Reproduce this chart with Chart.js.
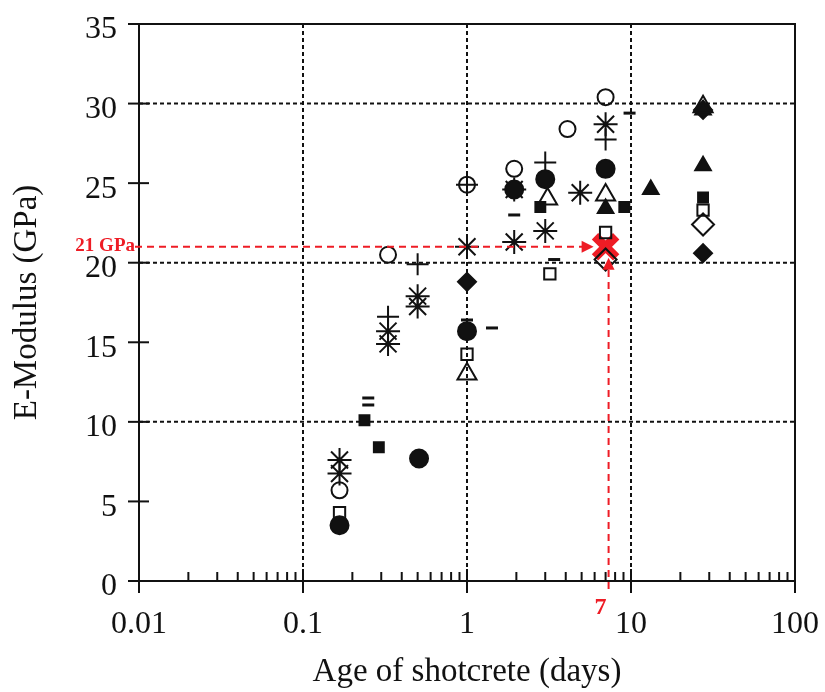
<!DOCTYPE html>
<html>
<head>
<meta charset="utf-8">
<script src="https://cdn.jsdelivr.net/npm/chart.js@4.4.0/dist/chart.umd.min.js"></script>
<style>
  html, body { margin: 0; padding: 0; background: #fff; }
  #wrap { width: 825px; height: 692px; position: relative; }
</style>
</head>
<body>
<div id="wrap"><canvas id="EModChart"></canvas></div>
<script>
// axis ticks and dotted grid positions
const xTicks = [0.01, 0.1, 1, 10, 100];
const xTickLabels = ['0.01', '0.1', '1', '10', '100'];
const yTicks = [0, 5, 10, 15, 20, 25, 30, 35];
const xGrid = [0.1, 1, 10];
const yGrid = [10, 20, 30];

// read-off values: [age (days), E-modulus (GPa)]
const openCircle = [[0.167, 5.7], [0.33, 20.5], [1.0, 24.9], [1.94, 25.9], [4.1, 28.4], [7.0, 30.4]];
const filledCircle = [[0.167, 3.5], [0.51, 7.7], [1.0, 15.7], [1.94, 24.6], [3.0, 25.25], [7.0, 25.9]];
const openSquare = [[0.167, 4.3], [1.0, 14.25], [3.2, 19.3], [7.0, 21.9], [27.5, 23.3]];
const filledSquare = [[0.237, 10.1], [0.29, 8.4], [2.8, 23.5], [9.1, 23.5], [27.5, 24.1]];
const openTriangle = [[1.0, 13.0], [3.1, 24.0], [7.0, 24.25], [27.5, 29.8]];
const filledTriangle = [[7.0, 23.4], [13.2, 24.6], [27.5, 26.1], [27.5, 29.6]];
const openDiamond = [[7.0, 20.2], [27.5, 22.4]];
const filledDiamond = [[1.0, 18.8], [27.5, 20.6], [27.5, 29.6]];
const plusMarks = [[0.33, 16.6], [0.5, 19.9], [1.0, 24.9], [3.0, 26.3], [7.0, 27.75]];
const asterisks = [[0.167, 7.6], [0.167, 6.75], [0.33, 15.7], [0.33, 14.9], [0.5, 17.9], [0.5, 17.25],
                   [1.0, 21.0], [1.94, 21.3], [1.94, 24.6], [3.0, 22.0], [4.9, 24.4], [7.0, 28.7]];
const dashes = [[0.25, 11.5], [0.25, 11.06], [1.0, 16.4], [1.42, 15.9], [1.94, 23.0], [3.4, 20.2], [9.8, 29.4]];

// highlighted reading
const refAge = 7;
const refModulus = 21;

const INK = '#111';
const RED = '#ee1c25';
const SERIF = '"Liberation Serif", "Times New Roman", serif';

function toXY(list) {
    return list.map(p => ({ x: p[0], y: p[1] }));
}

function marker(list, style, filled, radius, width) {
    return {
        data: toXY(list),
        showLine: false,
        pointStyle: style,
        pointRadius: radius,
        pointHoverRadius: radius,
        pointBackgroundColor: filled ? INK : 'rgba(0,0,0,0)',
        pointBorderColor: INK,
        pointBorderWidth: width
    };
}

// frame, dotted grid, tick marks, tick labels and the red reading lines
const framePlugin = {
    id: 'frame',
    beforeDatasetsDraw(chart) {
        const { ctx, chartArea: a, scales: { x, y } } = chart;
        ctx.save();
        ctx.strokeStyle = INK;

        // dotted grid
        ctx.lineWidth = 2;
        ctx.setLineDash([4, 3]);
        xGrid.forEach(v => {
            const px = x.getPixelForValue(v);
            ctx.beginPath(); ctx.moveTo(px, a.bottom); ctx.lineTo(px, a.top); ctx.stroke();
        });
        yGrid.forEach(v => {
            const py = y.getPixelForValue(v);
            ctx.beginPath(); ctx.moveTo(a.left, py); ctx.lineTo(a.right, py); ctx.stroke();
        });
        ctx.setLineDash([]);

        // box
        ctx.lineWidth = 2;
        ctx.strokeRect(a.left, a.top, a.right - a.left, a.bottom - a.top);

        // y ticks: crossing marks
        yTicks.forEach(v => {
            const py = y.getPixelForValue(v);
            ctx.beginPath(); ctx.moveTo(a.left - 11, py); ctx.lineTo(a.left + 10, py); ctx.stroke();
        });

        // x ticks: major crossing, minor inside
        xTicks.forEach((v, i) => {
            const px = x.getPixelForValue(v);
            ctx.beginPath(); ctx.moveTo(px, a.bottom + 12); ctx.lineTo(px, a.bottom - 12); ctx.stroke();
            if (i < xTicks.length - 1) {
                for (let m = 2; m <= 9; m++) {
                    const mx = x.getPixelForValue(v * m);
                    ctx.beginPath(); ctx.moveTo(mx, a.bottom); ctx.lineTo(mx, a.bottom - 9); ctx.stroke();
                }
            }
        });

        // tick labels
        ctx.fillStyle = INK;
        ctx.font = '32px ' + SERIF;
        ctx.textAlign = 'right';
        ctx.textBaseline = 'middle';
        yTicks.forEach(v => {
            ctx.fillText(String(v), a.left - 22, y.getPixelForValue(v) + 6);
        });
        ctx.textAlign = 'center';
        xTicks.forEach((v, i) => {
            ctx.fillText(xTickLabels[i], x.getPixelForValue(v), a.bottom + 44);
        });
        ctx.restore();
    },
    afterDatasetsDraw(chart) {
        const { ctx, chartArea: a, scales: { x, y } } = chart;
        const px = x.getPixelForValue(refAge);
        const py = y.getPixelForValue(refModulus);
        ctx.save();
        ctx.strokeStyle = RED;
        ctx.fillStyle = RED;
        ctx.lineWidth = 2;
        ctx.setLineDash([7, 5]);

        // horizontal dashed arrow
        ctx.beginPath(); ctx.moveTo(a.left - 4, py); ctx.lineTo(px - 22, py); ctx.stroke();
        // vertical dashed arrow
        ctx.beginPath(); ctx.moveTo(px + 3, a.bottom + 8); ctx.lineTo(px + 3, py + 22); ctx.stroke();
        ctx.setLineDash([]);

        // arrow heads
        ctx.beginPath();
        ctx.moveTo(px - 12, py); ctx.lineTo(px - 24, py - 6); ctx.lineTo(px - 24, py + 6); ctx.closePath();
        ctx.fill();
        ctx.beginPath();
        ctx.moveTo(px + 3, py + 11); ctx.lineTo(px - 3, py + 23); ctx.lineTo(px + 9, py + 23); ctx.closePath();
        ctx.fill();

        // labels
        ctx.font = 'bold 19px ' + SERIF;
        ctx.textAlign = 'right';
        ctx.textBaseline = 'middle';
        ctx.fillText(refModulus + ' GPa', a.left - 4, py - 1);
        ctx.font = 'bold 24px ' + SERIF;
        ctx.textAlign = 'center';
        ctx.fillText(String(refAge), px - 5, a.bottom + 27);
        ctx.restore();
    }
};

const datasets = [
    marker(openCircle, 'circle', false, 8, 2),
    marker(filledCircle, 'circle', true, 9, 2),
    marker(openSquare, 'rect', false, 8, 2),
    marker(filledSquare, 'rect', true, 7, 2),
    marker(openTriangle, 'triangle', false, 11, 2),
    marker(filledTriangle, 'triangle', true, 9, 2),
    marker(openDiamond, 'rectRot', false, 11, 2),
    marker(filledDiamond, 'rectRot', true, 9, 2),
    marker(plusMarks, 'cross', false, 11, 2),
    marker(asterisks, 'star', false, 12, 2),
    marker(dashes, 'line', false, 6, 3),
    {
        data: toXY([[refAge, refModulus]]),
        showLine: false,
        pointStyle: 'crossRot',
        pointRadius: 15,
        pointHoverRadius: 15,
        pointBorderColor: RED,
        pointBorderWidth: 9
    }
];

new Chart(document.getElementById('EModChart'), {
    type: 'scatter',
    data: { datasets: datasets },
    plugins: [framePlugin],
    options: {
        responsive: true,
        maintainAspectRatio: false,
        animation: false,
        layout: { padding: { left: 6, top: 21, right: 30, bottom: 0 } },
        plugins: {
            legend: { display: false },
            tooltip: { enabled: false }
        },
        scales: {
            x: {
                type: 'logarithmic',
                min: 0.01,
                max: 100,
                afterBuildTicks: s => { s.ticks = xTicks.map(v => ({ value: v })); },
                afterFit: s => { s.height = 111; },
                grid: { display: false, drawTicks: false },
                border: { display: false },
                ticks: { display: false },
                title: {
                    display: true,
                    text: 'Age of shotcrete (days)',
                    color: INK,
                    font: { family: SERIF, size: 33 },
                    padding: { top: 0, bottom: 0 }
                }
            },
            y: {
                min: 0,
                max: 35,
                afterBuildTicks: s => { s.ticks = yTicks.map(v => ({ value: v })); },
                afterFit: s => { s.width = 133; },
                grid: { display: false, drawTicks: false },
                border: { display: false },
                ticks: { display: false },
                title: {
                    display: true,
                    text: 'E-Modulus (GPa)',
                    color: INK,
                    font: { family: SERIF, size: 33 },
                    padding: { top: 2, bottom: 0 }
                }
            }
        }
    }
});
</script>
</body>
</html>
